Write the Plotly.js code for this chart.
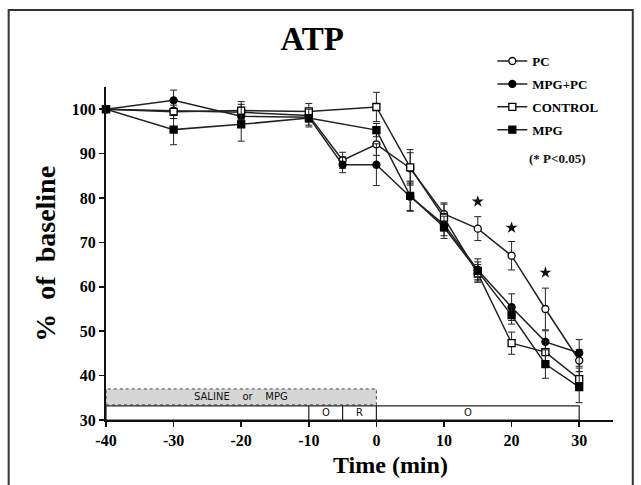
<!DOCTYPE html>
<html>
<head>
<meta charset="utf-8">
<script src="https://cdn.plot.ly/plotly-3.0.1.min.js"></script>
<style>
  html, body { margin: 0; padding: 0; background: #fff; }
  #chart { width: 641px; height: 485px; }
</style>
</head>
<body>
<div id="chart"></div>
<script>
// ---- data ----
const timeMin = [-40, -30, -20, -10, -5, 0, 5, 10, 15, 20, 25, 30];

const pcVals      = [100, 99.7, 99.3, 98.6, 88.5, 92.1, 86.7, 76.4, 73.1, 67.0, 55.0, 43.4];
const pcErr       = [0, 1.8, 1.8, 1.5, 1.8, 2.5, 3.5, 2.5, 2.7, 3.2, 4.7, 2.5];

const mpgPcVals   = [100, 102.0, 98.4, 98.2, 87.5, 87.5, 80.3, 74.0, 63.8, 55.4, 47.6, 45.1];
const mpgPcErr    = [0, 2.3, 2.0, 1.8, 1.8, 4.7, 3.3, 2.5, 2.5, 3.0, 2.5, 3.0];

const controlVals = [100, 99.4, 99.7, 99.5, null, 100.5, 86.9, 75.6, 63.0, 47.3, 45.3, 39.2];
const controlErr  = [0, 1.5, 2.0, 1.8, null, 3.3, 4.0, 3.0, 2.0, 2.5, 2.5, 2.5];

const mpgVals     = [100, 95.4, 96.6, 98.0, null, 95.3, 80.5, 73.4, 63.6, 53.6, 42.6, 37.4];
const mpgErr      = [0, 3.4, 3.8, 2.0, null, 1.5, 3.3, 2.5, 2.0, 2.0, 3.2, 3.5];

const starTimes = [15, 20, 25];
const starVals  = [79.2, 73.3, 63.2];

const seriesNames = ['PC', 'MPG+PC', 'CONTROL', 'MPG'];
const xTicks = [-40, -30, -20, -10, 0, 10, 20, 30];
const yTicks = [30, 40, 50, 60, 70, 80, 90, 100];

// protocol bars
const treatBar   = {x0: -40, x1: 0, label: 'SALINE\u00a0\u00a0\u00a0\u00a0or\u00a0\u00a0\u00a0\u00a0MPG'};
const phaseEdges = [-40, -10, -5, 0, 30];
const phaseLabels = ['', 'O', 'R', 'O'];
const phaseLabelX = [-25, -7.5, -2.5, 13.5];

// ---- styling ----
const serif = 'Liberation Serif, Times New Roman, serif';
const lineCol = '#222';

function series(name, y, err, symbol, fill, group) {
  return {
    x: timeMin, y: y, name: name, type: 'scatter', mode: 'lines+markers',
    connectgaps: true, legendgroup: group,
    line: {color: lineCol, width: 1.5},
    marker: {symbol: symbol, size: 7, color: fill, line: {color: '#000', width: 1.3}},
    error_y: {type: 'data', array: err, visible: true, color: lineCol, thickness: 1, width: 3.5},
    cliponaxis: false
  };
}

const traces = [
  series(seriesNames[0], pcVals, pcErr, 'circle', '#fff', 'g1'),
  series(seriesNames[1], mpgPcVals, mpgPcErr, 'circle', '#000', 'g2'),
  series(seriesNames[2], controlVals, controlErr, 'square', '#fff', 'g3'),
  series(seriesNames[3], mpgVals, mpgErr, 'square', '#000', 'g4'),
  {
    x: starTimes, y: starVals, type: 'scatter', mode: 'markers', showlegend: false,
    marker: {symbol: 'star', size: 9, color: '#111'}, hoverinfo: 'skip'
  }
];

const shapes = [
  // treatment bar (dotted grey)
  {type: 'rect', xref: 'x', yref: 'y', x0: treatBar.x0, x1: treatBar.x1, y0: 33.4, y1: 37.0,
   fillcolor: '#d6d6d6', line: {color: '#444', width: 1, dash: 'dot'}, layer: 'below'},
  // phase bar outline
  {type: 'rect', xref: 'x', yref: 'y', x0: phaseEdges[0], x1: phaseEdges[phaseEdges.length - 1], y0: 30, y1: 33.2,
   fillcolor: '#fff', line: {color: '#222', width: 1.2}, layer: 'below'},
  // outer picture frame
  {type: 'rect', xref: 'paper', yref: 'paper', x0: -0.192, x1: 1.039, y0: -0.25, y1: 1.231,
   line: {color: '#333', width: 2}, fillcolor: 'rgba(0,0,0,0)'}
];
for (let i = 1; i < phaseEdges.length - 1; i++) {
  shapes.push({type: 'line', xref: 'x', yref: 'y', x0: phaseEdges[i], x1: phaseEdges[i], y0: 30, y1: 33.2,
               line: {color: '#222', width: 1.2}});
}

const annotations = [
  {xref: 'x', yref: 'y', x: (treatBar.x0 + treatBar.x1) / 2, y: 35.2, text: treatBar.label, showarrow: false,
   font: {family: 'DejaVu Sans, sans-serif', size: 10, color: '#111'}},
  {xref: 'paper', yref: 'paper', x: 0.951, y: 0.815, text: '(* P<0.05)', showarrow: false,
   font: {family: serif, size: 13, color: '#111', weight: 'bold'}},
  // y-axis title
  {xref: 'paper', yref: 'paper', x: -0.12, y: 0.5, xanchor: 'center', yanchor: 'middle',
   text: '%\u00a0\u00a0of\u00a0\u00a0baseline', textangle: -90, showarrow: false,
   font: {family: serif, size: 28, color: '#000', weight: 'bold'}},
  // x-axis title
  {xref: 'paper', yref: 'paper', x: 0.561, y: -0.135, xanchor: 'center', yanchor: 'middle',
   text: 'Time (min)', showarrow: false,
   font: {family: serif, size: 24, color: '#000', weight: 'bold'}}
];
for (let i = 0; i < phaseLabels.length; i++) {
  if (!phaseLabels[i]) continue;
  annotations.push({xref: 'x', yref: 'y', x: phaseLabelX[i], y: 31.6, text: phaseLabels[i], showarrow: false,
                    font: {family: 'DejaVu Sans, sans-serif', size: 10, color: '#111'}});
}

const layout = {
  width: 641, height: 485,
  margin: {l: 105.5, r: 28, t: 87, b: 65},
  paper_bgcolor: '#fff', plot_bgcolor: '#fff',
  title: {text: '<b>ATP</b>', x: 0.487, xref: 'container', xanchor: 'center',
          y: 0.92, yref: 'container', yanchor: 'middle',
          font: {family: serif, size: 33, color: '#000'}},
  xaxis: {
    range: [-40, 35], tickvals: xTicks, ticktext: xTicks.map(String),
    showgrid: false, zeroline: false, showline: true, linecolor: '#111', linewidth: 2,
    ticks: 'outside', ticklen: 5, tickwidth: 1.5, tickcolor: '#111',
    tickfont: {family: serif, size: 16, color: '#000', weight: 'bold'}
  },
  yaxis: {
    range: [30, 105], tickvals: yTicks, ticktext: yTicks.map(String),
    showgrid: false, zeroline: false, showline: true, linecolor: '#111', linewidth: 2,
    ticks: 'outside', ticklen: 5, tickwidth: 1.5, tickcolor: '#111',
    tickfont: {family: serif, size: 16, color: '#000', weight: 'bold'}
  },
  showlegend: true,
  legend: {x: 0.762, y: 1.123, xanchor: 'left', yanchor: 'top', bgcolor: 'rgba(0,0,0,0)',
           tracegroupgap: 3, itemwidth: 30,
           font: {family: serif, size: 13, color: '#000', weight: 'bold'}},
  shapes: shapes,
  annotations: annotations
};

Plotly.newPlot('chart', traces, layout, {displayModeBar: false, staticPlot: true});
</script>
</body>
</html>
